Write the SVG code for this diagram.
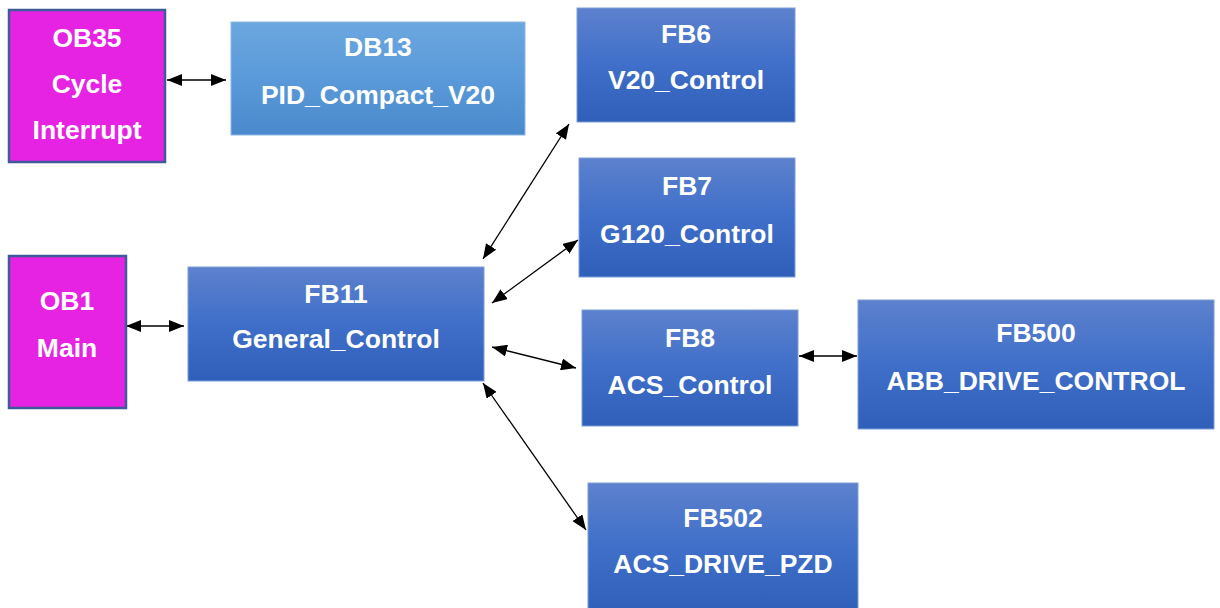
<svg xmlns="http://www.w3.org/2000/svg" width="1220" height="608" viewBox="0 0 1220 608">
<style>
.ob{fill:#E623E3;stroke:#3F5A99;stroke-width:2.5}
.fb{fill:url(#gB);stroke:#7E9ED8;stroke-width:1}
.db{fill:url(#gL);stroke:#8DB6E2;stroke-width:1}
text{font-family:"Liberation Sans",Arial,sans-serif;font-weight:bold;font-size:26.5px;fill:#fff;text-anchor:middle}
.c line{stroke:#000;stroke-width:1.3;marker-start:url(#ah);marker-end:url(#ah)}
</style>
<defs>
<linearGradient id="gB" x1="0" y1="0" x2="0" y2="1">
<stop offset="0" stop-color="#5D81CD"/>
<stop offset="0.5" stop-color="#3F6FC9"/>
<stop offset="1" stop-color="#2F5FB8"/>
</linearGradient>
<linearGradient id="gL" x1="0" y1="0" x2="0" y2="1">
<stop offset="0" stop-color="#6CA7DF"/>
<stop offset="0.5" stop-color="#5A9ADA"/>
<stop offset="1" stop-color="#4A89CB"/>
</linearGradient>
<marker id="ah" viewBox="0 0 15 12" refX="15" refY="6" markerWidth="15" markerHeight="12" markerUnits="userSpaceOnUse" orient="auto-start-reverse">
<path d="M0,0 L15,6 L0,12 Z" fill="#000"/>
</marker>
</defs>
<g class="c" id="connectors">
<line x1="167" y1="80" x2="226" y2="80"/>
<line x1="126" y1="326" x2="184" y2="326"/>
<line x1="799" y1="356" x2="857" y2="356"/>
<line x1="483" y1="259" x2="569" y2="124"/>
<line x1="492" y1="303" x2="578" y2="240"/>
<line x1="492" y1="347" x2="576" y2="368"/>
<line x1="483" y1="383" x2="586" y2="530"/>
</g>
<g id="OB35"><rect class="ob" x="9" y="10" width="156" height="152"/><text x="87" y="47">OB35</text><text x="87" y="93">Cycle</text><text x="87" y="139">Interrupt</text></g>
<g id="DB13"><rect class="db" x="231" y="22" width="294" height="113"/><text x="378" y="56">DB13</text><text x="378" y="104">PID_Compact_V20</text></g>
<g id="FB6"><rect class="fb" x="577" y="8" width="218" height="114"/><text x="686" y="43">FB6</text><text x="686" y="89">V20_Control</text></g>
<g id="FB7"><rect class="fb" x="579" y="158" width="216" height="119"/><text x="687" y="195">FB7</text><text x="687" y="243">G120_Control</text></g>
<g id="OB1"><rect class="ob" x="9" y="256" width="117" height="152"/><text x="67" y="310">OB1</text><text x="67" y="357">Main</text></g>
<g id="FB11"><rect class="fb" x="188" y="267" width="296" height="114"/><text x="336" y="303">FB11</text><text x="336" y="348">General_Control</text></g>
<g id="FB8"><rect class="fb" x="582" y="310" width="216" height="116"/><text x="690" y="347">FB8</text><text x="690" y="394">ACS_Control</text></g>
<g id="FB500"><rect class="fb" x="858" y="300" width="356" height="129"/><text x="1036" y="342">FB500</text><text x="1036" y="390">ABB_DRIVE_CONTROL</text></g>
<g id="FB502"><rect class="fb" x="588" y="483" width="270" height="130"/><text x="723" y="527">FB502</text><text x="723" y="573">ACS_DRIVE_PZD</text></g>
</svg>
